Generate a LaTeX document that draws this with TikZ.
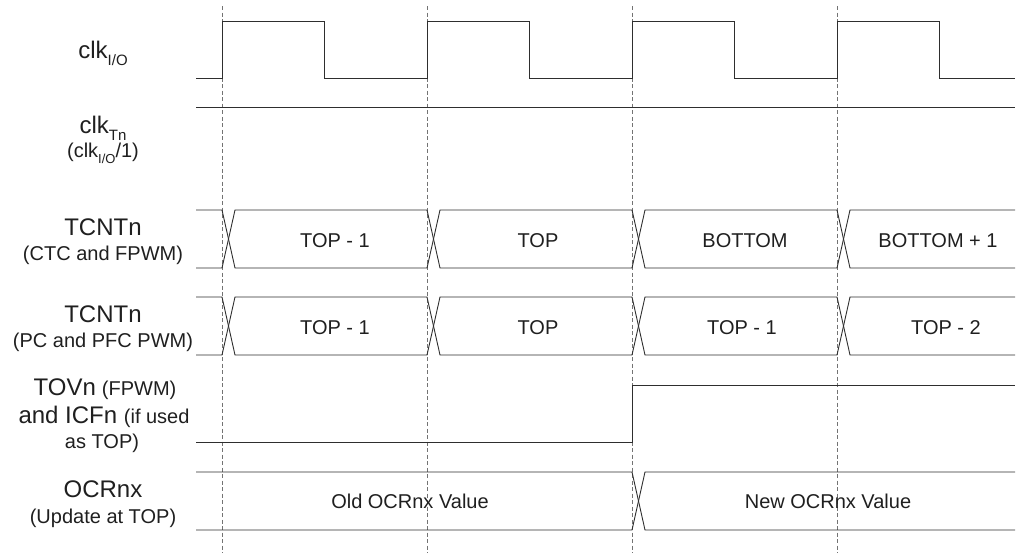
\documentclass[tikz,border=0pt]{standalone}
\usepackage{fontspec}
\setmainfont{Liberation Sans}
\newcommand\bigfs{\fontsize{24}{26}\selectfont}
\newcommand\smallfs{\fontsize{20}{22}\selectfont}
\begin{document}
\begin{tikzpicture}[x=1pt,y=-1pt,
  wave/.style={line width=0.9pt, draw=black!82, line join=miter},
  guide/.style={line width=0.8pt, draw=black!55, dash pattern=on 4pt off 2.5pt},
  lbl/.style={inner sep=0pt, anchor=base, text=black!88},
  val/.style={inner sep=0pt, anchor=base, text=black!88, font=\smallfs}]
\useasboundingbox (0,0) rectangle (1022,557);
% guide lines
\foreach \x in {222,427,632,837} \draw[guide] (\x,6) -- (\x,553);
% clk I/O
\draw[wave] (196,78) -- (222,78) -- (222,21) -- (324.5,21) -- (324.5,78) -- (427,78) -- (427,21) -- (529.5,21) -- (529.5,78) -- (632,78) -- (632,21) -- (734.5,21) -- (734.5,78) -- (837,78) -- (837,21) -- (939.5,21) -- (939.5,78) -- (1015,78);
% clk Tn
\draw[wave] (196,107) -- (1015,107);
% TCNTn CTC/FPWM
\draw[wave] (196,210) -- (222,210) -- (235,268) -- (427,268) -- (440,210) -- (632,210) -- (645,268) -- (837,268) -- (850,210) -- (1015,210);
\draw[wave] (196,268) -- (222,268) -- (235,210) -- (427,210) -- (440,268) -- (632,268) -- (645,210) -- (837,210) -- (850,268) -- (1015,268);
% TCNTn PC/PFC
\draw[wave] (196,297) -- (222,297) -- (235,355) -- (427,355) -- (440,297) -- (632,297) -- (645,355) -- (837,355) -- (850,297) -- (1015,297);
\draw[wave] (196,355) -- (222,355) -- (235,297) -- (427,297) -- (440,355) -- (632,355) -- (645,297) -- (837,297) -- (850,355) -- (1015,355);
% TOVn
\draw[wave] (196,442) -- (632,442) -- (632,385) -- (1015,385);
% OCRnx
\draw[wave] (196,472) -- (632,472) -- (645,530) -- (1015,530);
\draw[wave] (196,530) -- (632,530) -- (645,472) -- (1015,472);
% left labels
\node[lbl] (l1) at (103,58) {\bigfs clk\raisebox{-7pt}{\fontsize{15}{15}\selectfont I/O}};
\node[lbl] (l2) at (103,133) {\bigfs clk\raisebox{-7pt}{\fontsize{15}{15}\selectfont Tn}};
\node[lbl] (l2b) at (103,157) {\smallfs (clk\raisebox{-6pt}{\fontsize{13}{13}\selectfont I/O}/1)};
\node[lbl] (l3) at (103,235) {\bigfs TCNTn};
\node[lbl] (l3b) at (103,260) {\smallfs (CTC and FPWM)};
\node[lbl] (l4) at (103,322) {\bigfs TCNTn};
\node[lbl] (l4b) at (103,347) {\smallfs (PC and PFC PWM)};
\node[lbl] (l5) at (105,395) {\bigfs TOVn\hspace{6pt}\smallfs (FPWM)};
\node[lbl] (l5b) at (104,423) {\bigfs and ICFn \smallfs (if used};
\node[lbl] (l5c) at (102,448) {\smallfs as TOP)};
\node[lbl] (l6) at (103,497) {\bigfs OCRnx};
\node[lbl] (l6b) at (103,523) {\smallfs (Update at TOP)};
% values
\node[val] (a1) at (335,247) {TOP - 1};
\node[val] (a2) at (538,247) {TOP};
\node[val] (a3) at (745,247) {BOTTOM};
\node[val] (a4) at (938,247) {BOTTOM + 1};
\node[val] (b1) at (335,334) {TOP - 1};
\node[val] (b2) at (538,334) {TOP};
\node[val] (b3) at (742,334) {TOP - 1};
\node[val] (b4) at (946,334) {TOP - 2};
\node[val] (c1) at (410,508) {Old OCRnx Value};
\node[val] (c2) at (828,508) {New OCRnx Value};
\end{tikzpicture}
\end{document}
